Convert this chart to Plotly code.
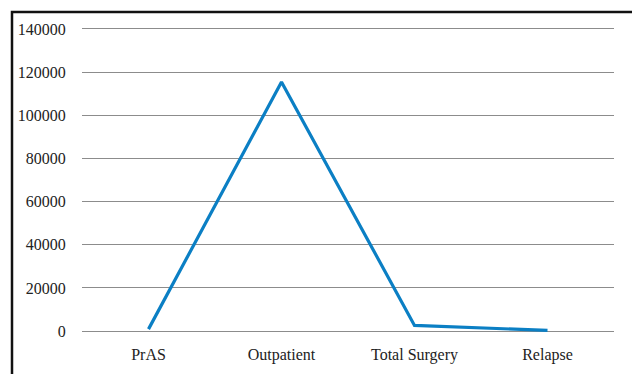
import plotly.graph_objects as go

categories = ["PrAS", "Outpatient", "Total Surgery", "Relapse"]
values = [900, 115400, 2600, 300]
y_ticks = [0, 20000, 40000, 60000, 80000, 100000, 120000, 140000]

W, H = 632, 374
L, R, T, B = 82, 18, 27, 41
pw, ph = W - L - R, H - T - B

def px_x(x):
    return (x - L) / pw

def px_y(y):
    return (H - B - y) / ph

fig = go.Figure()
fig.add_trace(go.Scatter(
    x=categories, y=values, mode="lines",
    line=dict(color="#0b7fc4", width=3.2),
    hoverinfo="skip", showlegend=False,
))

fig.update_layout(
    width=W, height=H,
    margin=dict(l=L, r=R, t=T, b=B, autoexpand=False),
    paper_bgcolor="white", plot_bgcolor="white",
    font=dict(family="Liberation Serif", size=16, color="#222222"),
    xaxis=dict(
        type="category", range=[-0.5, 3.5], showgrid=False, zeroline=False,
        showline=False, ticks="outside", ticklen=7, tickcolor="rgba(0,0,0,0)",
        automargin=False,
    ),
    yaxis=dict(
        range=[-900, 140900], tickvals=y_ticks, ticktext=[str(v) for v in y_ticks],
        showgrid=True, gridcolor="#8c8c8c", gridwidth=1, zeroline=False,
        showline=False, ticks="outside", ticklen=12, tickcolor="rgba(0,0,0,0)",
        automargin=False,
    ),
    shapes=[dict(
        type="rect", xref="paper", yref="paper",
        x0=px_x(12), x1=px_x(650), y0=px_y(390), y1=px_y(12),
        line=dict(color="#111111", width=2.5), fillcolor="rgba(0,0,0,0)",
        layer="above",
    )],
)

fig.write_html(
    "out.html",
    config={"displayModeBar": False},
    post_script="document.body.style.margin='0';document.body.style.overflow='hidden';",
)
